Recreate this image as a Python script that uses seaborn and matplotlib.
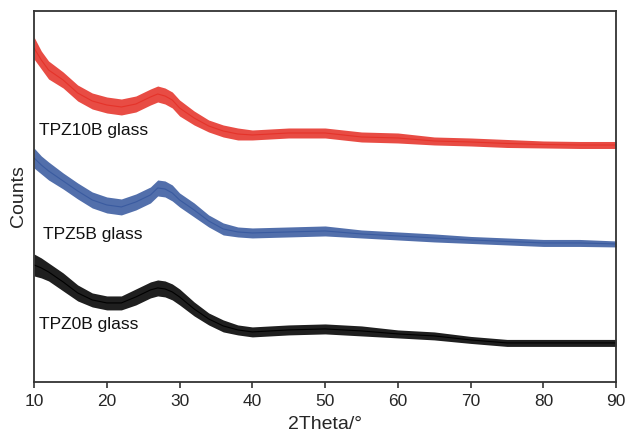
import numpy as np
import pandas as pd
import matplotlib
matplotlib.use("Agg")
import matplotlib.pyplot as plt
import seaborn as sns

# 2Theta sample positions (degrees)
two_theta = [10, 11, 12, 14, 16, 18, 20, 22, 24, 26, 27, 28, 29, 30, 32, 34, 36, 38, 40,
             45, 50, 55, 60, 65, 70, 75, 80, 85, 90]

# curve centres (arbitrary counts, stacked as in the figure)
tpz10b_mid = [334, 322, 312, 302, 289, 281, 277, 275, 278, 285, 288, 286, 282, 274, 264, 256,
              251, 248, 247, 249, 249, 245, 244, 241, 240, 238.5, 237.5, 237, 237]
tpz5b_mid = [224, 217, 211, 201, 191, 182, 177, 175, 180, 187, 194, 193, 189, 182, 172, 161,
             153, 150, 149, 150, 151, 148, 146, 144, 142, 140.5, 139, 139, 138]
tpz0b_mid = [117, 114, 110, 100, 89, 82, 79, 79, 85, 92, 94, 93, 90, 85, 73, 63,
             56, 52, 50, 52, 53, 51, 48, 46, 42, 39, 39, 39, 39]

# half-width of the noise band around each centre
tpz10b_half = [11, 9, 9, 8, 8, 8, 8, 8, 8, 8, 8, 8, 8, 8, 7, 6, 6, 6, 5, 5, 5, 5, 5, 4, 4, 4, 3.5, 3.5, 3.5]
tpz5b_half = [10, 9, 9, 8, 8, 8, 8, 8, 8, 8, 8, 8, 8, 7, 7, 6, 6, 5, 5, 5, 5, 4, 4, 4, 3.5, 3.5, 3.5, 3.5, 3]
tpz0b_half = [11, 10, 9, 9, 8, 7, 7, 7, 8, 8, 8, 8, 8, 8, 7, 6, 6, 5, 5, 5, 5, 5, 4, 4, 3.5, 3.5, 3.5, 3.5, 3.5]

labels = ["TPZ10B glass", "TPZ5B glass", "TPZ0B glass"]
label_x = [10.7, 11.2, 10.7]
label_y = [251, 147, 57]
colors = ["#e5332a", "#3a5ba0", "#000000"]
x_ticks = [10, 20, 30, 40, 50, 60, 70, 80, 90]

sns.set_style("white")
plt.rcParams["font.family"] = ["Liberation Sans", "DejaVu Sans"]

rows = []
for name, mid, half in [(labels[0], tpz10b_mid, tpz10b_half),
                        (labels[1], tpz5b_mid, tpz5b_half),
                        (labels[2], tpz0b_mid, tpz0b_half)]:
    for x, m, h in zip(two_theta, mid, half):
        rows.append({"x": x, "y": m - h, "s": name})
        rows.append({"x": x, "y": m + h, "s": name})
df = pd.DataFrame(rows)

fig = plt.figure(figsize=(6.3, 4.41), dpi=100)
ax = fig.add_axes([0.054, 0.134, 0.924, 0.841])

for name, col in zip(labels, colors):
    sns.lineplot(data=df[df["s"] == name], x="x", y="y", color=col, ax=ax,
                 errorbar=("pi", 100), linewidth=0.8,
                 err_kws={"alpha": 0.88, "linewidth": 0})

for t, lx, ly in zip(labels, label_x, label_y):
    ax.text(lx, ly, t, fontsize=12.5, va="center", ha="left", color="#111111")

ax.set_xlim(10, 90)
ax.set_ylim(0, 371)
ax.set_xticks(x_ticks)
ax.set_xticklabels([str(v) for v in x_ticks], fontsize=12.5)
ax.set_yticks([])
ax.set_xlabel("2Theta/°", fontsize=14, labelpad=5)
ax.set_ylabel("Counts", fontsize=14, labelpad=5)
ax.tick_params(axis="x", direction="out", length=4, width=1.2, color="#333333", pad=5, bottom=True)
for sp in ax.spines.values():
    sp.set_linewidth(1.3)
    sp.set_color("#333333")

fig.savefig("out.png", dpi=100)
